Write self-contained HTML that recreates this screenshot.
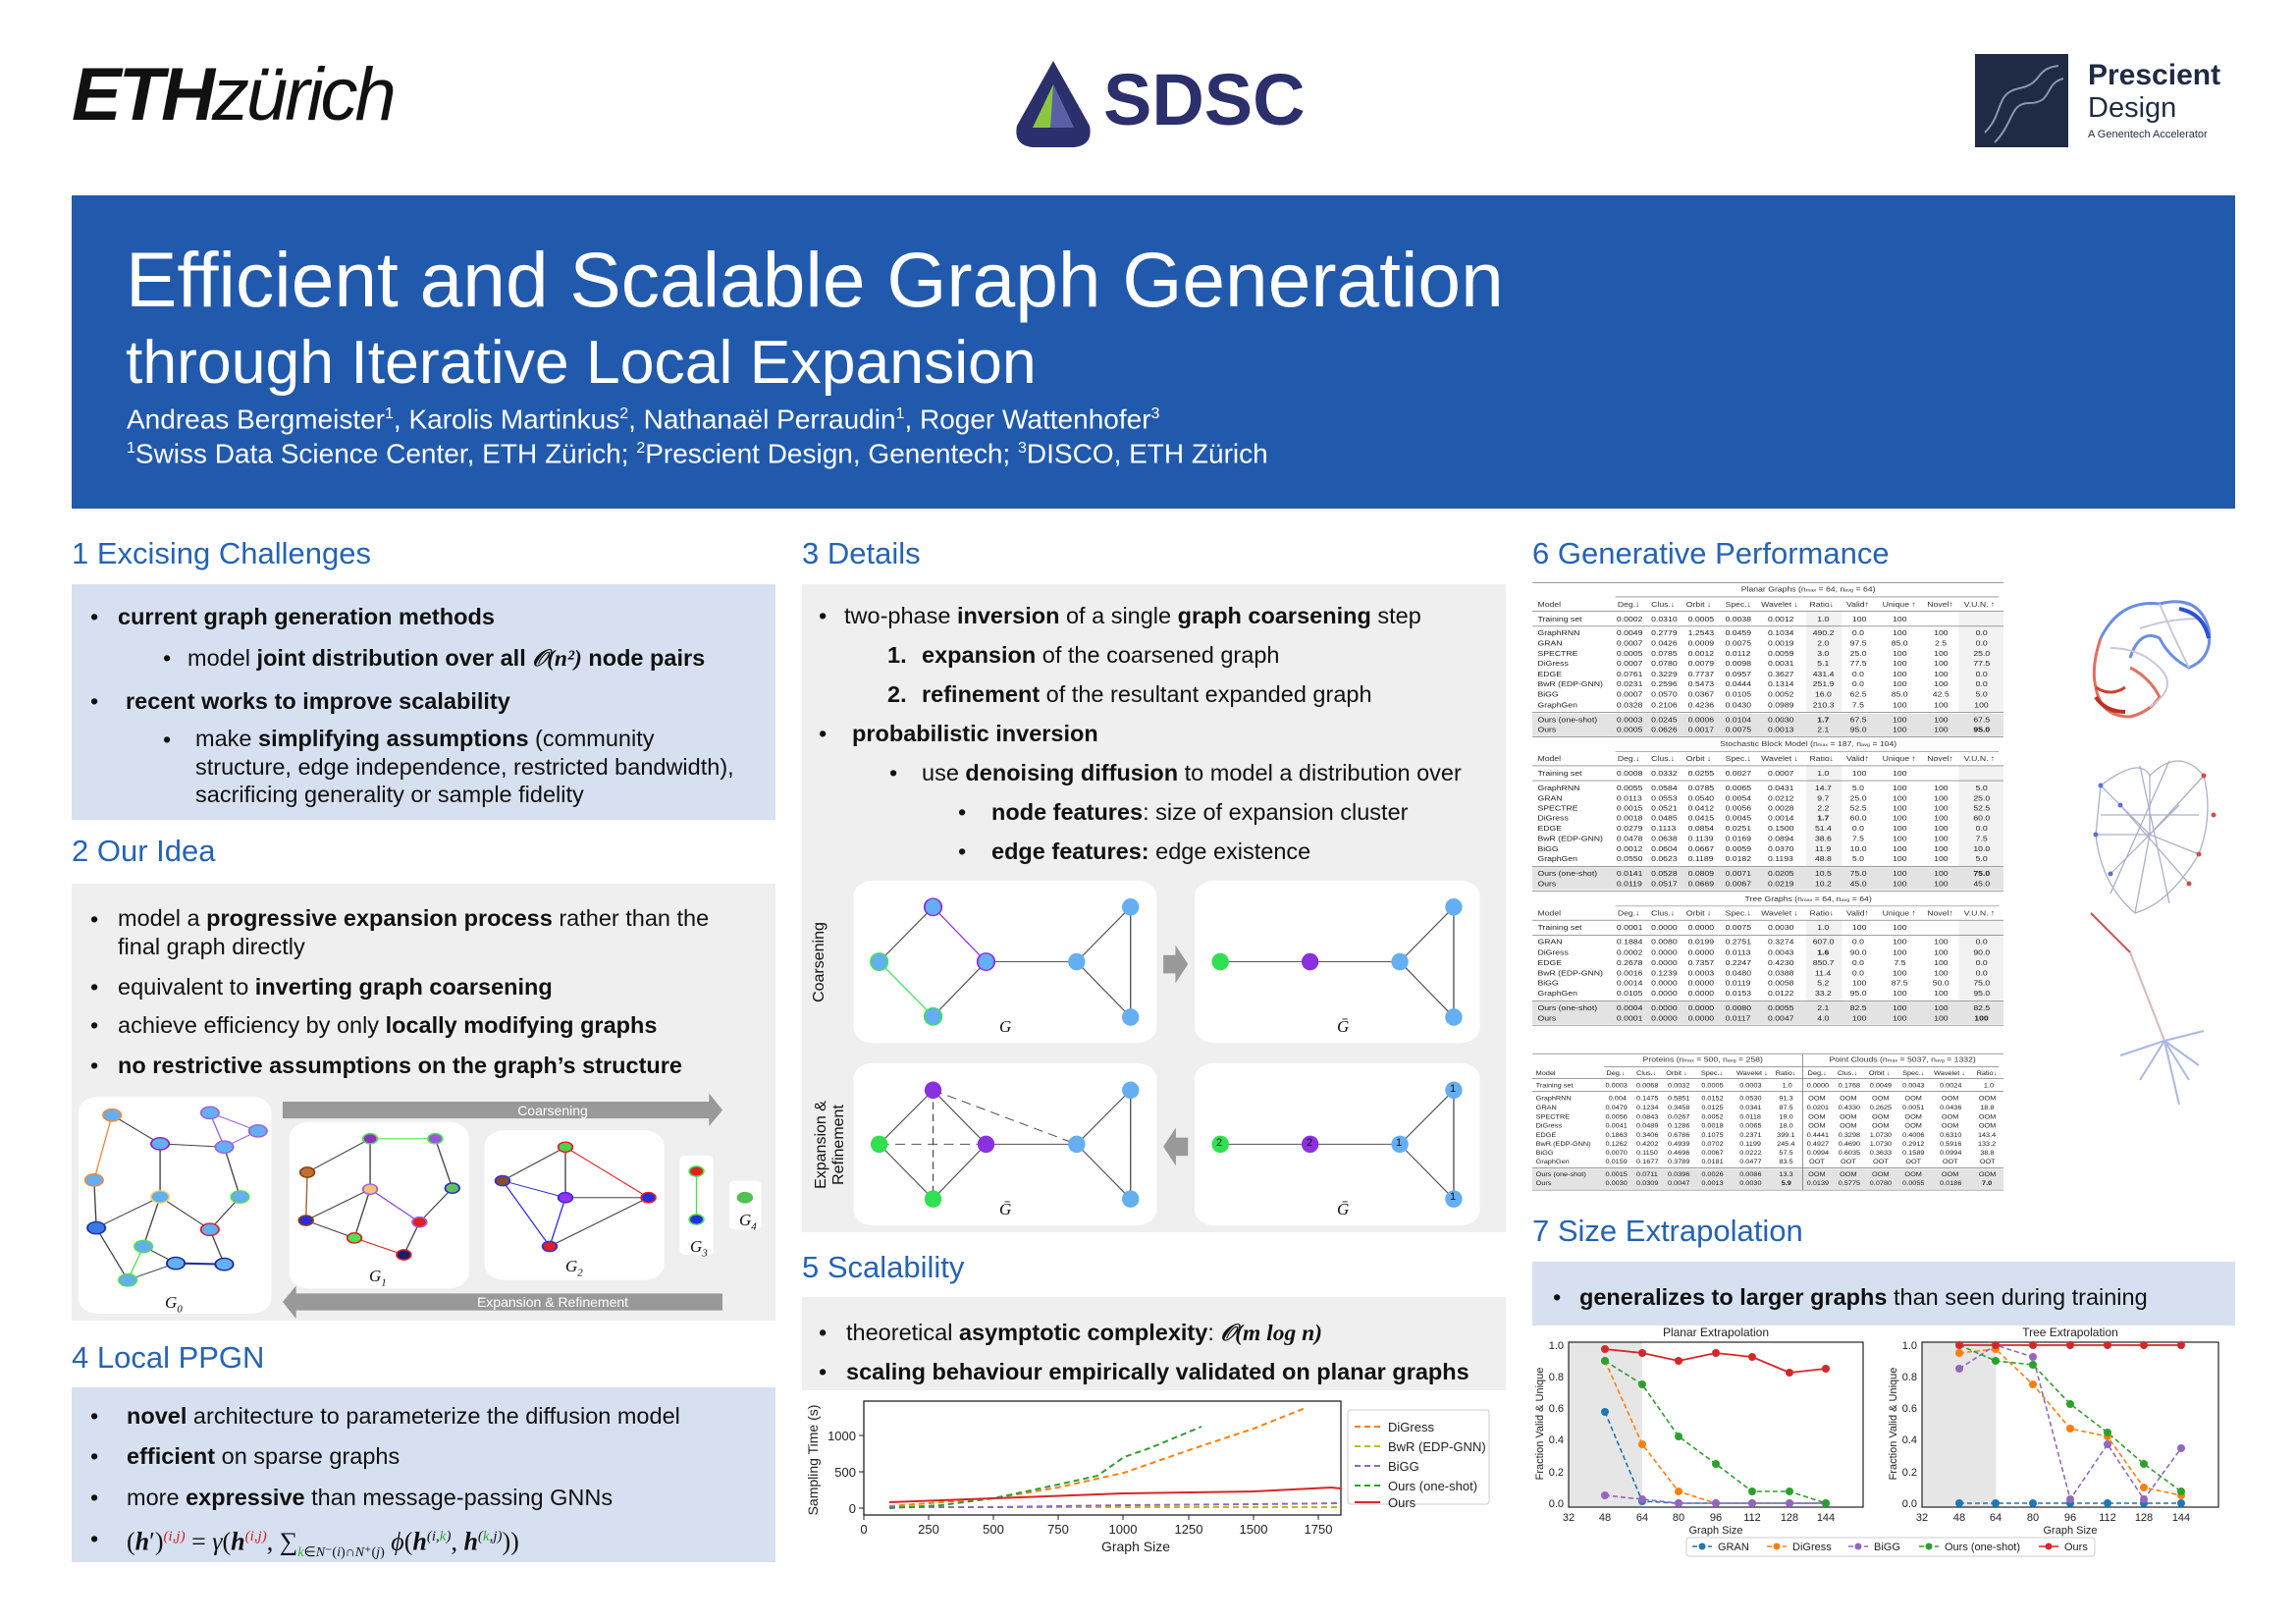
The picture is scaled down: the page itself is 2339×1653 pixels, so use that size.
<!DOCTYPE html>
<html><head><meta charset="utf-8">
<style>
*{margin:0;padding:0;box-sizing:border-box}
body{width:2339px;height:1653px;position:relative;background:#fff;font-family:"Liberation Sans",sans-serif;color:#111;overflow:hidden}
.a{position:absolute}
.l{position:absolute;font-size:23.5px;line-height:30px;white-space:nowrap;color:#111}
.h{position:absolute;font-size:31px;line-height:36px;color:#2563b5;white-space:nowrap}
.box{position:absolute}
.lb{background:#d6e0f0}
.gb{background:#efefef}
b{font-weight:bold}
.m{font-family:"Liberation Serif",serif;font-style:italic}
svg text{font-family:"Liberation Sans",sans-serif}
</style></head><body>

<!-- logos -->
<div class="a" style="left:73px;top:52px;font-size:76px;line-height:90px;white-space:nowrap;letter-spacing:-3px"><span style="font-weight:900;font-style:italic;display:inline-block">ETH</span><span style="font-style:italic;font-weight:300">zürich</span></div>
<svg class="a" style="left:1030px;top:58px" width="86" height="96" viewBox="0 0 86 96">
<path d="M43 4 L80 70 Q84 90 64 92 L22 92 Q2 90 6 70 Z" fill="#2b2f6b"/>
<path d="M43 28 L64 72 L22 72 Z" fill="#8cc63f"/>
<path d="M43 28 L64 72 L40 72 Z" fill="#5a5fa8"/>
</svg>
<div class="a" style="left:1124px;top:60px;font-size:74px;line-height:84px;font-weight:bold;color:#2b2f6b;letter-spacing:0px">SDSC</div>
<div class="a" style="left:2012px;top:55px;width:95px;height:95px;background:#1f2a44"></div>
<svg class="a" style="left:2012px;top:55px" width="95" height="95"><path d="M10 80 C30 60 20 40 45 35 C70 30 60 15 85 12" stroke="#8a97b0" stroke-width="2" fill="none"/><path d="M20 90 C40 70 35 50 55 50 C80 50 70 30 90 25" stroke="#8a97b0" stroke-width="2" fill="none"/></svg>
<div class="a" style="left:2127px;top:60px;font-size:30px;font-weight:bold;color:#1f2a44;line-height:34px">Prescient</div>
<div class="a" style="left:2127px;top:94px;font-size:29px;color:#1f2a44;line-height:32px">Design</div>
<div class="a" style="left:2127px;top:131px;font-size:11px;color:#1f2a44">A Genentech Accelerator</div>

<!-- banner -->
<div class="a" style="left:73px;top:199px;width:2204px;height:319px;background:#215aad"></div>
<div class="a" style="left:128px;top:240px;font-size:78.5px;line-height:90px;color:#fff;white-space:nowrap">Efficient and Scalable Graph Generation</div>
<div class="a" style="left:128px;top:332px;font-size:62.5px;line-height:74px;color:#fff;white-space:nowrap">through Iterative Local Expansion</div>
<div class="a" style="left:129px;top:406px;font-size:28px;line-height:32px;color:#fff;white-space:nowrap">Andreas Bergmeister<sup style="font-size:16px">1</sup>, Karolis Martinkus<sup style="font-size:16px">2</sup>, Nathanaël Perraudin<sup style="font-size:16px">1</sup>, Roger Wattenhofer<sup style="font-size:16px">3</sup></div>
<div class="a" style="left:129px;top:441px;font-size:28px;line-height:32px;color:#fff;white-space:nowrap"><sup style="font-size:16px">1</sup>Swiss Data Science Center, ETH Zürich; <sup style="font-size:16px">2</sup>Prescient Design, Genentech; <sup style="font-size:16px">3</sup>DISCO, ETH Zürich</div>

<!-- column 1 -->
<div class="h" style="left:73px;top:546px">1 Excising Challenges</div>
<div class="box lb" style="left:73px;top:595px;width:717px;height:240px"></div>
<div class="l" style="left:92px;top:613px">•</div><div class="l" style="left:120px;top:613px"><b>current graph generation methods</b></div>
<div class="l" style="left:166px;top:655px">•</div><div class="l" style="left:191px;top:655px">model <b>joint distribution over all <span class="m">𝒪(n²)</span> node pairs</b></div>
<div class="l" style="left:92px;top:699px">•</div><div class="l" style="left:128px;top:699px"><b>recent works to improve scalability</b></div>
<div class="l" style="left:166px;top:738px">•</div><div class="l" style="left:199px;top:738px;line-height:28.5px">make <b>simplifying assumptions</b> (community<br>structure, edge independence, restricted bandwidth),<br>sacrificing generality or sample fidelity</div>

<div class="h" style="left:73px;top:849px">2 Our Idea</div>
<div class="box gb" style="left:73px;top:900px;width:717px;height:445px"></div>
<div class="l" style="left:92px;top:921px">•</div><div class="l" style="left:120px;top:921px;line-height:29px">model a <b>progressive expansion process</b> rather than the<br>final graph directly</div>
<div class="l" style="left:92px;top:990px">•</div><div class="l" style="left:120px;top:990px">equivalent to <b>inverting graph coarsening</b></div>
<div class="l" style="left:92px;top:1029px">•</div><div class="l" style="left:120px;top:1029px">achieve efficiency by only <b>locally modifying graphs</b></div>
<div class="l" style="left:92px;top:1070px">•</div><div class="l" style="left:120px;top:1070px"><b>no restrictive assumptions on the graph’s structure</b></div>

<svg class="a" style="left:73px;top:1110px" width="717" height="240" viewBox="0 0 1568 700" preserveAspectRatio="none">
<rect x="15" y="20" width="430" height="645" rx="45" fill="#fff"/>
<rect x="485" y="95" width="400" height="495" rx="45" fill="#fff"/>
<rect x="920" y="120" width="400" height="445" rx="45" fill="#fff"/>
<rect x="1355" y="195" width="75" height="295" rx="12" fill="#fff"/>
<rect x="1465" y="270" width="72" height="145" rx="12" fill="#fff"/>
<path d="M470 35 H1420 V10 L1450 60 L1420 108 V85 H470 Z" fill="#999"/>
<path d="M1450 605 H500 V582 L470 630 L500 680 V655 H1450 Z" fill="#999"/>
<g stroke-width="3" fill="none">
<path d="M90 75 L50 268" stroke="#f08a40"/>
<path d="M90 75 L197 160 L340 170 M197 160 L197 318 M340 170 L375 318 L308 415 L340 518 M232 515 L125 565 M160 465 L232 515 M160 465 L197 318 L55 410 L125 565 M197 318 L308 415 M50 268 L55 410" stroke="#444"/>
<path d="M340 170 L308 68 L415 122 Z" stroke="#a060e0"/>
<path d="M340 518 L232 515" stroke="#2030a0" stroke-width="6"/>
<path d="M125 565 L160 465" stroke="#50e050"/>
<path d="M665 145 L810 145" stroke="#50e050"/>
<path d="M665 145 L525 245 M665 145 L665 295 M810 145 L848 292 L775 393 M522 388 L665 295 M522 388 L630 440 M665 295 L630 440 M775 393 L740 490" stroke="#444"/>
<path d="M525 245 L522 388" stroke="#a06030"/>
<path d="M665 295 L775 393" stroke="#8a30e0"/>
<path d="M630 440 L740 490" stroke="#e02020"/>
<path d="M1100 170 L960 270 M1100 170 L1100 320 M1100 320 L1285 320 M1285 320 L1065 465" stroke="#444"/>
<path d="M1100 170 L1285 320" stroke="#e02020"/>
<path d="M960 270 L1100 320 M960 270 L1065 465 M1100 320 L1065 465" stroke="#3030e0"/>
<path d="M1392 242 L1392 385" stroke="#50e050"/>
</g>
<g fill="#64aef2" stroke-width="4">
<ellipse cx="90" cy="75" rx="20" ry="18" stroke="#f08a40"/><ellipse cx="50" cy="268" rx="20" ry="18" stroke="#f08a40"/>
<ellipse cx="55" cy="410" rx="20" ry="18" fill="#3a7ae0" stroke="#2030c0"/><ellipse cx="125" cy="565" rx="20" ry="18" stroke="#50e050"/>
<ellipse cx="197" cy="160" rx="20" ry="18" stroke="#9020c0"/><ellipse cx="197" cy="318" rx="20" ry="18" stroke="#f0d060"/>
<ellipse cx="160" cy="465" rx="20" ry="18" stroke="#50e050"/><ellipse cx="232" cy="515" rx="20" ry="18" stroke="#1a2a90"/>
<ellipse cx="340" cy="518" rx="20" ry="18" stroke="#1a2a90"/><ellipse cx="308" cy="415" rx="20" ry="18" stroke="#e02020"/>
<ellipse cx="375" cy="318" rx="20" ry="18" stroke="#50e050"/><ellipse cx="340" cy="170" rx="20" ry="18" stroke="#a060e0"/>
<ellipse cx="308" cy="68" rx="20" ry="18" stroke="#a060e0"/><ellipse cx="415" cy="122" rx="20" ry="18" stroke="#a060e0"/>
<ellipse cx="665" cy="145" rx="16" ry="15" fill="#9030c0" stroke="#50e050"/><ellipse cx="810" cy="145" rx="16" ry="15" fill="#a050e0" stroke="#50e050"/>
<ellipse cx="525" cy="245" rx="16" ry="15" fill="#c07030" stroke="#8a4010"/><ellipse cx="665" cy="295" rx="16" ry="15" fill="#f5c07a" stroke="#a060e0"/>
<ellipse cx="848" cy="292" rx="16" ry="15" fill="#60c060" stroke="#2030c0"/><ellipse cx="522" cy="388" rx="16" ry="15" fill="#2a2adf" stroke="#8a4010"/>
<ellipse cx="630" cy="440" rx="16" ry="15" fill="#50e050" stroke="#e02020"/><ellipse cx="775" cy="393" rx="16" ry="15" fill="#e02020" stroke="#a060e0"/>
<ellipse cx="740" cy="490" rx="16" ry="15" fill="#1a1a70" stroke="#e02020"/>
<ellipse cx="1100" cy="170" rx="16" ry="15" fill="#50d050" stroke="#e02020"/><ellipse cx="960" cy="270" rx="16" ry="15" fill="#8a4a30" stroke="#3030e0"/>
<ellipse cx="1100" cy="320" rx="16" ry="15" fill="#9a30f0" stroke="#3030e0"/><ellipse cx="1285" cy="320" rx="16" ry="15" fill="#2030e0" stroke="#e02020"/>
<ellipse cx="1065" cy="465" rx="16" ry="15" fill="#e02020" stroke="#3030e0"/>
<ellipse cx="1392" cy="242" rx="16" ry="15" fill="#e02020" stroke="#50e050"/><ellipse cx="1392" cy="385" rx="16" ry="15" fill="#2030e0" stroke="#50e050"/>
<ellipse cx="1500" cy="320" rx="16" ry="15" fill="#50c050" stroke="#50c050"/>
</g>
</svg>
<div class="a" style="left:373px;top:1123px;width:380px;text-align:center;color:#fff;font-size:14px">Coarsening</div>
<div class="a" style="left:373px;top:1318px;width:380px;text-align:center;color:#fff;font-size:14px">Expansion &amp; Refinement</div>
<div class="a m" style="left:168px;top:1317px;font-size:17px">G<sub style="font-size:11px">0</sub></div>
<div class="a m" style="left:376px;top:1290px;font-size:17px">G<sub style="font-size:11px">1</sub></div>
<div class="a m" style="left:576px;top:1280px;font-size:17px">G<sub style="font-size:11px">2</sub></div>
<div class="a m" style="left:703px;top:1260px;font-size:17px">G<sub style="font-size:11px">3</sub></div>
<div class="a m" style="left:753px;top:1233px;font-size:17px">G<sub style="font-size:11px">4</sub></div>

<div class="h" style="left:73px;top:1365px">4 Local PPGN</div>
<div class="box lb" style="left:73px;top:1413px;width:717px;height:178px"></div>
<div class="l" style="left:92px;top:1427px">•</div><div class="l" style="left:129px;top:1427px"><b>novel</b> architecture to parameterize the diffusion model</div>
<div class="l" style="left:92px;top:1468px">•</div><div class="l" style="left:129px;top:1468px"><b>efficient</b> on sparse graphs</div>
<div class="l" style="left:92px;top:1510px">•</div><div class="l" style="left:129px;top:1510px">more <b>expressive</b> than message-passing GNNs</div>
<div class="l" style="left:92px;top:1552px">•</div><div class="l" style="left:129px;top:1550px;font-family:'Liberation Serif',serif;font-size:26px">(<b><i>h</i></b>′)<sup style="color:#d02020;font-size:15px"><i>(i,j)</i></sup> = <i>γ</i>(<b><i>h</i></b><sup style="color:#d02020;font-size:15px"><i>(i,j)</i></sup>, ∑<sub style="font-size:14px"><i style="color:#30b030">k</i>∈<i>N</i>⁻(<i>i</i>)∩<i>N</i>⁺(<i>j</i>)</sub> <i>ϕ</i>(<b><i>h</i></b><sup style="font-size:15px"><i>(i,<span style="color:#30b030">k</span>)</i></sup>, <b><i>h</i></b><sup style="font-size:15px"><i>(<span style="color:#30b030">k</span>,j)</i></sup>))</div>

<!-- column 2 -->
<div class="h" style="left:817px;top:546px">3 Details</div>
<div class="box gb" style="left:817px;top:595px;width:717px;height:660px"></div>
<div class="l" style="left:834px;top:612px">•</div><div class="l" style="left:860px;top:612px">two-phase <b>inversion</b> of a single <b>graph coarsening</b> step</div>
<div class="l" style="left:904px;top:652px"><b>1.</b></div><div class="l" style="left:939px;top:652px"><b>expansion</b> of the coarsened graph</div>
<div class="l" style="left:904px;top:692px"><b>2.</b></div><div class="l" style="left:939px;top:692px"><b>refinement</b> of the resultant expanded graph</div>
<div class="l" style="left:834px;top:732px">•</div><div class="l" style="left:868px;top:732px"><b>probabilistic inversion</b></div>
<div class="l" style="left:906px;top:772px">•</div><div class="l" style="left:939px;top:772px">use <b>denoising diffusion</b> to model a distribution over</div>
<div class="l" style="left:976px;top:812px">•</div><div class="l" style="left:1010px;top:812px"><b>node features</b>: size of expansion cluster</div>
<div class="l" style="left:976px;top:852px">•</div><div class="l" style="left:1010px;top:852px"><b>edge features:</b> edge existence</div>

<svg class="a" style="left:817px;top:890px" width="717" height="370" viewBox="0 0 1568 1095" preserveAspectRatio="none">
<rect x="115" y="20" width="675" height="490" rx="45" fill="#fff"/>
<rect x="875" y="20" width="635" height="490" rx="45" fill="#fff"/>
<rect x="115" y="570" width="675" height="490" rx="45" fill="#fff"/>
<rect x="875" y="570" width="635" height="490" rx="45" fill="#fff"/>
<path d="M805 245 H832 V215 L860 272 L832 330 V300 H805 Z" fill="#999"/>
<path d="M860 795 H833 V765 L805 822 L833 880 V850 H860 Z" fill="#999"/>
<g stroke="#555" stroke-width="3" fill="none">
<path d="M292 100 L172 265 M292 430 L410 265 L612 265 L732 100 L732 432 L612 265"/>
<path d="M292 100 L410 265" stroke="#8a30e0"/><path d="M172 265 L292 430" stroke="#40e060"/>
<path d="M932 265 L1332 265 L1452 100 L1452 432 L1332 265"/>
<path d="M292 652 L172 815 L292 980 L410 815 L292 652 M410 815 L612 815 L732 652 L732 980 L612 815"/>
<path d="M292 652 L292 980 M172 815 L410 815 M292 652 L612 815" stroke-dasharray="22 14"/>
<path d="M932 815 L1332 815 L1452 652 L1452 980 L1332 815"/>
</g>
<g>
<ellipse cx="292" cy="100" rx="19" ry="26" fill="#64aef2" stroke="#8a30e0" stroke-width="4"/>
<ellipse cx="172" cy="265" rx="19" ry="26" fill="#64aef2" stroke="#40e060" stroke-width="4"/>
<ellipse cx="292" cy="430" rx="19" ry="26" fill="#64aef2" stroke="#40e060" stroke-width="4"/>
<ellipse cx="410" cy="265" rx="19" ry="26" fill="#64aef2" stroke="#8a30e0" stroke-width="4"/>
<ellipse cx="612" cy="265" rx="19" ry="26" fill="#64aef2"/><ellipse cx="732" cy="100" rx="19" ry="26" fill="#64aef2"/><ellipse cx="732" cy="432" rx="19" ry="26" fill="#64aef2"/>
<ellipse cx="932" cy="265" rx="19" ry="26" fill="#30e050"/><ellipse cx="1132" cy="265" rx="19" ry="26" fill="#8a30e0"/>
<ellipse cx="1332" cy="265" rx="19" ry="26" fill="#64aef2"/><ellipse cx="1452" cy="100" rx="19" ry="26" fill="#64aef2"/><ellipse cx="1452" cy="432" rx="19" ry="26" fill="#64aef2"/>
<ellipse cx="292" cy="652" rx="19" ry="26" fill="#8a30e0"/><ellipse cx="172" cy="815" rx="19" ry="26" fill="#30e050"/>
<ellipse cx="292" cy="980" rx="19" ry="26" fill="#30e050"/><ellipse cx="410" cy="815" rx="19" ry="26" fill="#8a30e0"/>
<ellipse cx="612" cy="815" rx="19" ry="26" fill="#64aef2"/><ellipse cx="732" cy="652" rx="19" ry="26" fill="#64aef2"/><ellipse cx="732" cy="980" rx="19" ry="26" fill="#64aef2"/>
<ellipse cx="932" cy="815" rx="19" ry="26" fill="#30e050"/><ellipse cx="1132" cy="815" rx="19" ry="26" fill="#8a30e0"/>
<ellipse cx="1332" cy="815" rx="19" ry="26" fill="#64aef2"/><ellipse cx="1452" cy="652" rx="19" ry="26" fill="#64aef2"/><ellipse cx="1452" cy="980" rx="19" ry="26" fill="#64aef2"/>
</g>
</svg>
<div class="a" style="left:1239px;top:1158px;font-size:11px">2</div><div class="a" style="left:1331px;top:1158px;font-size:11px">2</div>
<div class="a" style="left:1422px;top:1158px;font-size:11px">1</div><div class="a" style="left:1477px;top:1103px;font-size:11px">1</div><div class="a" style="left:1477px;top:1213px;font-size:11px">1</div>
<div class="a m" style="left:1018px;top:1036px;font-size:17px">G</div>
<div class="a m" style="left:1362px;top:1036px;font-size:17px">Ḡ</div>
<div class="a m" style="left:1018px;top:1222px;font-size:17px">Ḡ</div>
<div class="a m" style="left:1362px;top:1222px;font-size:17px">Ḡ</div>
<div class="a" style="left:835px;top:980px;font-size:16px;transform:translate(-50%,-50%) rotate(-90deg);transform-origin:center;white-space:nowrap;line-height:18px">Coarsening</div>
<div class="a" style="left:846px;top:1166px;font-size:16px;transform:translate(-50%,-50%) rotate(-90deg);transform-origin:center;white-space:nowrap;line-height:18px;text-align:center">Expansion &amp;<br>Refinement</div>

<div class="h" style="left:817px;top:1273px">5 Scalability</div>
<div class="box gb" style="left:817px;top:1321px;width:717px;height:95px"></div>
<div class="l" style="left:834px;top:1342px">•</div><div class="l" style="left:862px;top:1342px">theoretical <b>asymptotic complexity</b>: <span class="m" style="font-weight:bold">𝒪(m log n)</span></div>
<div class="l" style="left:834px;top:1382px">•</div><div class="l" style="left:862px;top:1382px"><b>scaling behaviour empirically validated on planar graphs</b></div>

<svg class="a" style="left:817px;top:1416px" width="717" height="190" viewBox="817 1416 717 190">
<rect x="880" y="1427" width="486" height="116" fill="none" stroke="#222" stroke-width="1.3"/>
<g stroke="#222" stroke-width="1"><path d="M880 1543v5M946 1543v5M1012 1543v5M1078 1543v5M1144 1543v5M1211 1543v5M1277 1543v5M1343 1543v5M880 1536h-5M880 1499h-5M880 1462h-5"/></g>
<g font-size="13" fill="#222" text-anchor="middle">
<text x="880" y="1562">0</text><text x="946" y="1562">250</text><text x="1012" y="1562">500</text><text x="1078" y="1562">750</text><text x="1144" y="1562">1000</text><text x="1211" y="1562">1250</text><text x="1277" y="1562">1500</text><text x="1343" y="1562">1750</text>
<text x="1157" y="1580" font-size="14">Graph Size</text>
</g>
<g font-size="13" fill="#222" text-anchor="end"><text x="872" y="1541">0</text><text x="872" y="1504">500</text><text x="872" y="1467">1000</text></g>
<text transform="translate(833 1487) rotate(-90)" font-size="14" fill="#222" text-anchor="middle">Sampling Time (s)</text>
<g fill="none" stroke-width="2">
<polyline points="906,1534 959,1530 1012,1526 1078,1515 1118,1506 1145,1500 1211,1477 1277,1455 1330,1434" stroke="#ff7f0e" stroke-dasharray="6 4"/>
<polyline points="906,1535 1366,1535" stroke="#bcbd22" stroke-dasharray="6 4"/>
<polyline points="906,1535 1012,1535 1145,1533 1277,1532 1366,1531" stroke="#9467bd" stroke-dasharray="6 4"/>
<polyline points="906,1536 959,1533 1012,1526 1078,1512 1118,1503 1145,1484 1171,1475 1224,1453" stroke="#2ca02c" stroke-dasharray="6 4"/>
<polyline points="906,1530 1012,1526 1092,1523 1145,1521 1277,1519 1356,1515 1366,1516" stroke="#d62728"/>
</g>
<rect x="1373" y="1436" width="144" height="96" fill="#fff" stroke="#ccc" rx="3"/>
<g stroke-width="2"><path d="M1380 1453h26" stroke="#ff7f0e" stroke-dasharray="6 4"/><path d="M1380 1473h26" stroke="#bcbd22" stroke-dasharray="6 4"/><path d="M1380 1493h26" stroke="#9467bd" stroke-dasharray="6 4"/><path d="M1380 1513h26" stroke="#2ca02c" stroke-dasharray="6 4"/><path d="M1380 1530h26" stroke="#d62728"/></g>
<g font-size="13" fill="#222"><text x="1414" y="1458">DiGress</text><text x="1414" y="1478">BwR (EDP-GNN)</text><text x="1414" y="1498">BiGG</text><text x="1414" y="1518">Ours (one-shot)</text><text x="1414" y="1535">Ours</text></g>
</svg>

<!-- column 3 -->
<div class="h" style="left:1561px;top:546px">6 Generative Performance</div>
<svg class="a" style="left:1561px;top:590px" width="480" height="629" viewBox="0 0 1050 1540" preserveAspectRatio="none" font-family="Liberation Serif">
<g fill="#f2f2f2"><rect x="610" y="80" width="80" height="250"/><rect x="950" y="80" width="100" height="250"/><rect x="610" y="465" width="80" height="250"/><rect x="950" y="465" width="100" height="250"/><rect x="610" y="850" width="80" height="200"/><rect x="950" y="850" width="100" height="200"/></g>
<g fill="#e3e3e3"><rect x="0" y="335" width="1050" height="56"/><rect x="0" y="718" width="1050" height="56"/><rect x="0" y="1053" width="1050" height="56"/><rect x="0" y="1470" width="1050" height="50"/></g>
<g stroke="#666" stroke-width="1.5"><path d="M0 8H1050M185 44H1040M0 80H1050M0 117H1050M0 332H1050M0 393H1050"/><path d="M185 430H1040M0 465H1050M0 502H1050M0 716H1050M0 777H1050"/><path d="M185 815H1040M0 850H1050M0 887H1050M0 1051H1050M0 1112H1050"/><path d="M0 1183H1050M160 1215H1040M0 1245H1050M0 1277H1050M0 1468H1050M0 1523H1050M603 1185V1523"/></g>
<g font-size="19" fill="#333">
<text x="615" y="31" text-anchor="middle">Planar Graphs (n<tspan font-size="12">max</tspan> = 64, n<tspan font-size="12">avg</tspan> = 64)</text>
<text x="615" y="416" text-anchor="middle">Stochastic Block Model (n<tspan font-size="12">max</tspan> = 187, n<tspan font-size="12">avg</tspan> = 104)</text>
<text x="615" y="803" text-anchor="middle">Tree Graphs (n<tspan font-size="12">max</tspan> = 64, n<tspan font-size="12">avg</tspan> = 64)</text>
<text x="380" y="1204" text-anchor="middle">Proteins (n<tspan font-size="12">max</tspan> = 500, n<tspan font-size="12">avg</tspan> = 258)</text>
<text x="825" y="1204" text-anchor="middle">Point Clouds (n<tspan font-size="12">max</tspan> = 5037, n<tspan font-size="12">avg</tspan> = 1332)</text>
</g>
<g font-size="19" fill="#333">
<text y="68"><tspan x="12">Model</tspan><tspan x="190">Deg.↓</tspan><tspan x="265">Clus.↓</tspan><tspan x="343">Orbit ↓</tspan><tspan x="430">Spec.↓</tspan><tspan x="510">Wavelet ↓</tspan><tspan x="618">Ratio↓</tspan><tspan x="700">Valid↑</tspan><tspan x="780">Unique ↑</tspan><tspan x="880">Novel↑</tspan><tspan x="962">V.U.N. ↑</tspan></text>
<text y="453"><tspan x="12">Model</tspan><tspan x="190">Deg.↓</tspan><tspan x="265">Clus.↓</tspan><tspan x="343">Orbit ↓</tspan><tspan x="430">Spec.↓</tspan><tspan x="510">Wavelet ↓</tspan><tspan x="618">Ratio↓</tspan><tspan x="700">Valid↑</tspan><tspan x="780">Unique ↑</tspan><tspan x="880">Novel↑</tspan><tspan x="962">V.U.N. ↑</tspan></text>
<text y="838"><tspan x="12">Model</tspan><tspan x="190">Deg.↓</tspan><tspan x="265">Clus.↓</tspan><tspan x="343">Orbit ↓</tspan><tspan x="430">Spec.↓</tspan><tspan x="510">Wavelet ↓</tspan><tspan x="618">Ratio↓</tspan><tspan x="700">Valid↑</tspan><tspan x="780">Unique ↑</tspan><tspan x="880">Novel↑</tspan><tspan x="962">V.U.N. ↑</tspan></text>
</g>
<g font-size="19" fill="#222">
<text y="105"><tspan x="12">Training set</tspan><tspan x="188">0.0002</tspan><tspan x="265">0.0310</tspan><tspan x="347">0.0005</tspan><tspan x="430">0.0038</tspan><tspan x="525">0.0012</tspan><tspan x="635">1.0</tspan><tspan x="713">100</tspan><tspan x="803">100</tspan></text>
<text y="140"><tspan x="12">GraphRNN</tspan><tspan x="188">0.0049</tspan><tspan x="265">0.2779</tspan><tspan x="347">1.2543</tspan><tspan x="430">0.0459</tspan><tspan x="525">0.1034</tspan><tspan x="625">490.2</tspan><tspan x="713">0.0</tspan><tspan x="803">100</tspan><tspan x="895">100</tspan><tspan x="988">0.0</tspan></text>
<text y="165"><tspan x="12">GRAN</tspan><tspan x="188">0.0007</tspan><tspan x="265">0.0426</tspan><tspan x="347">0.0009</tspan><tspan x="430">0.0075</tspan><tspan x="525">0.0019</tspan><tspan x="635">2.0</tspan><tspan x="708">97.5</tspan><tspan x="800">85.0</tspan><tspan x="897">2.5</tspan><tspan x="988">0.0</tspan></text>
<text y="191"><tspan x="12">SPECTRE</tspan><tspan x="188">0.0005</tspan><tspan x="265">0.0785</tspan><tspan x="347">0.0012</tspan><tspan x="430">0.0112</tspan><tspan x="525">0.0059</tspan><tspan x="635">3.0</tspan><tspan x="708">25.0</tspan><tspan x="803">100</tspan><tspan x="895">100</tspan><tspan x="983">25.0</tspan></text>
<text y="216"><tspan x="12">DiGress</tspan><tspan x="188">0.0007</tspan><tspan x="265">0.0780</tspan><tspan x="347">0.0079</tspan><tspan x="430">0.0098</tspan><tspan x="525">0.0031</tspan><tspan x="635">5.1</tspan><tspan x="708">77.5</tspan><tspan x="803">100</tspan><tspan x="895">100</tspan><tspan x="983">77.5</tspan></text>
<text y="242"><tspan x="12">EDGE</tspan><tspan x="188">0.0761</tspan><tspan x="265">0.3229</tspan><tspan x="347">0.7737</tspan><tspan x="430">0.0957</tspan><tspan x="525">0.3627</tspan><tspan x="625">431.4</tspan><tspan x="713">0.0</tspan><tspan x="803">100</tspan><tspan x="895">100</tspan><tspan x="988">0.0</tspan></text>
<text y="267"><tspan x="12">BwR (EDP-GNN)</tspan><tspan x="188">0.0231</tspan><tspan x="265">0.2596</tspan><tspan x="347">0.5473</tspan><tspan x="430">0.0444</tspan><tspan x="525">0.1314</tspan><tspan x="625">251.9</tspan><tspan x="713">0.0</tspan><tspan x="803">100</tspan><tspan x="895">100</tspan><tspan x="988">0.0</tspan></text>
<text y="293"><tspan x="12">BiGG</tspan><tspan x="188">0.0007</tspan><tspan x="265">0.0570</tspan><tspan x="347">0.0367</tspan><tspan x="430">0.0105</tspan><tspan x="525">0.0052</tspan><tspan x="630">16.0</tspan><tspan x="708">62.5</tspan><tspan x="800">85.0</tspan><tspan x="892">42.5</tspan><tspan x="988">5.0</tspan></text>
<text y="319"><tspan x="12">GraphGen</tspan><tspan x="188">0.0328</tspan><tspan x="265">0.2106</tspan><tspan x="347">0.4236</tspan><tspan x="430">0.0430</tspan><tspan x="525">0.0989</tspan><tspan x="625">210.3</tspan><tspan x="713">7.5</tspan><tspan x="803">100</tspan><tspan x="895">100</tspan><tspan x="985">100</tspan></text>
<text y="356"><tspan x="12">Ours (one-shot)</tspan><tspan x="188">0.0003</tspan><tspan x="265">0.0245</tspan><tspan x="347">0.0006</tspan><tspan x="430">0.0104</tspan><tspan x="525">0.0030</tspan><tspan x="635" font-weight="bold">1.7</tspan><tspan x="708">67.5</tspan><tspan x="803">100</tspan><tspan x="895">100</tspan><tspan x="983">67.5</tspan></text>
<text y="381"><tspan x="12">Ours</tspan><tspan x="188">0.0005</tspan><tspan x="265">0.0626</tspan><tspan x="347">0.0017</tspan><tspan x="430">0.0075</tspan><tspan x="525">0.0013</tspan><tspan x="635">2.1</tspan><tspan x="708">95.0</tspan><tspan x="803">100</tspan><tspan x="895">100</tspan><tspan x="983" font-weight="bold">95.0</tspan></text>

<text y="490"><tspan x="12">Training set</tspan><tspan x="188">0.0008</tspan><tspan x="265">0.0332</tspan><tspan x="347">0.0255</tspan><tspan x="430">0.0027</tspan><tspan x="525">0.0007</tspan><tspan x="635">1.0</tspan><tspan x="713">100</tspan><tspan x="803">100</tspan></text>
<text y="526"><tspan x="12">GraphRNN</tspan><tspan x="188">0.0055</tspan><tspan x="265">0.0584</tspan><tspan x="347">0.0785</tspan><tspan x="430">0.0065</tspan><tspan x="525">0.0431</tspan><tspan x="630">14.7</tspan><tspan x="713">5.0</tspan><tspan x="803">100</tspan><tspan x="895">100</tspan><tspan x="988">5.0</tspan></text>
<text y="552"><tspan x="12">GRAN</tspan><tspan x="188">0.0113</tspan><tspan x="265">0.0553</tspan><tspan x="347">0.0540</tspan><tspan x="430">0.0054</tspan><tspan x="525">0.0212</tspan><tspan x="635">9.7</tspan><tspan x="708">25.0</tspan><tspan x="803">100</tspan><tspan x="895">100</tspan><tspan x="983">25.0</tspan></text>
<text y="576"><tspan x="12">SPECTRE</tspan><tspan x="188">0.0015</tspan><tspan x="265">0.0521</tspan><tspan x="347">0.0412</tspan><tspan x="430">0.0056</tspan><tspan x="525">0.0028</tspan><tspan x="635">2.2</tspan><tspan x="708">52.5</tspan><tspan x="803">100</tspan><tspan x="895">100</tspan><tspan x="983">52.5</tspan></text>
<text y="601"><tspan x="12">DiGress</tspan><tspan x="188">0.0018</tspan><tspan x="265">0.0485</tspan><tspan x="347">0.0415</tspan><tspan x="430">0.0045</tspan><tspan x="525">0.0014</tspan><tspan x="635" font-weight="bold">1.7</tspan><tspan x="708">60.0</tspan><tspan x="803">100</tspan><tspan x="895">100</tspan><tspan x="983">60.0</tspan></text>
<text y="627"><tspan x="12">EDGE</tspan><tspan x="188">0.0279</tspan><tspan x="265">0.1113</tspan><tspan x="347">0.0854</tspan><tspan x="430">0.0251</tspan><tspan x="525">0.1500</tspan><tspan x="630">51.4</tspan><tspan x="713">0.0</tspan><tspan x="803">100</tspan><tspan x="895">100</tspan><tspan x="988">0.0</tspan></text>
<text y="653"><tspan x="12">BwR (EDP-GNN)</tspan><tspan x="188">0.0478</tspan><tspan x="265">0.0638</tspan><tspan x="347">0.1139</tspan><tspan x="430">0.0169</tspan><tspan x="525">0.0894</tspan><tspan x="630">38.6</tspan><tspan x="713">7.5</tspan><tspan x="803">100</tspan><tspan x="895">100</tspan><tspan x="988">7.5</tspan></text>
<text y="678"><tspan x="12">BiGG</tspan><tspan x="188">0.0012</tspan><tspan x="265">0.0604</tspan><tspan x="347">0.0667</tspan><tspan x="430">0.0059</tspan><tspan x="525">0.0370</tspan><tspan x="630">11.9</tspan><tspan x="708">10.0</tspan><tspan x="803">100</tspan><tspan x="895">100</tspan><tspan x="983">10.0</tspan></text>
<text y="703"><tspan x="12">GraphGen</tspan><tspan x="188">0.0550</tspan><tspan x="265">0.0623</tspan><tspan x="347">0.1189</tspan><tspan x="430">0.0182</tspan><tspan x="525">0.1193</tspan><tspan x="630">48.8</tspan><tspan x="713">5.0</tspan><tspan x="803">100</tspan><tspan x="895">100</tspan><tspan x="988">5.0</tspan></text>
<text y="739"><tspan x="12">Ours (one-shot)</tspan><tspan x="188">0.0141</tspan><tspan x="265">0.0528</tspan><tspan x="347">0.0809</tspan><tspan x="430">0.0071</tspan><tspan x="525">0.0205</tspan><tspan x="630">10.5</tspan><tspan x="708">75.0</tspan><tspan x="803">100</tspan><tspan x="895">100</tspan><tspan x="983" font-weight="bold">75.0</tspan></text>
<text y="765"><tspan x="12">Ours</tspan><tspan x="188">0.0119</tspan><tspan x="265">0.0517</tspan><tspan x="347">0.0669</tspan><tspan x="430">0.0067</tspan><tspan x="525">0.0219</tspan><tspan x="630">10.2</tspan><tspan x="708">45.0</tspan><tspan x="803">100</tspan><tspan x="895">100</tspan><tspan x="983">45.0</tspan></text>

<text y="874"><tspan x="12">Training set</tspan><tspan x="188">0.0001</tspan><tspan x="265">0.0000</tspan><tspan x="347">0.0000</tspan><tspan x="430">0.0075</tspan><tspan x="525">0.0030</tspan><tspan x="635">1.0</tspan><tspan x="713">100</tspan><tspan x="803">100</tspan></text>
<text y="910"><tspan x="12">GRAN</tspan><tspan x="188">0.1884</tspan><tspan x="265">0.0080</tspan><tspan x="347">0.0199</tspan><tspan x="430">0.2751</tspan><tspan x="525">0.3274</tspan><tspan x="625">607.0</tspan><tspan x="713">0.0</tspan><tspan x="803">100</tspan><tspan x="895">100</tspan><tspan x="988">0.0</tspan></text>
<text y="936"><tspan x="12">DiGress</tspan><tspan x="188">0.0002</tspan><tspan x="265">0.0000</tspan><tspan x="347">0.0000</tspan><tspan x="430">0.0113</tspan><tspan x="525">0.0043</tspan><tspan x="635" font-weight="bold">1.6</tspan><tspan x="708">90.0</tspan><tspan x="803">100</tspan><tspan x="895">100</tspan><tspan x="983">90.0</tspan></text>
<text y="962"><tspan x="12">EDGE</tspan><tspan x="188">0.2678</tspan><tspan x="265">0.0000</tspan><tspan x="347">0.7357</tspan><tspan x="430">0.2247</tspan><tspan x="525">0.4230</tspan><tspan x="625">850.7</tspan><tspan x="713">0.0</tspan><tspan x="806">7.5</tspan><tspan x="895">100</tspan><tspan x="988">0.0</tspan></text>
<text y="988"><tspan x="12">BwR (EDP-GNN)</tspan><tspan x="188">0.0016</tspan><tspan x="265">0.1239</tspan><tspan x="347">0.0003</tspan><tspan x="430">0.0480</tspan><tspan x="525">0.0388</tspan><tspan x="630">11.4</tspan><tspan x="713">0.0</tspan><tspan x="803">100</tspan><tspan x="895">100</tspan><tspan x="988">0.0</tspan></text>
<text y="1013"><tspan x="12">BiGG</tspan><tspan x="188">0.0014</tspan><tspan x="265">0.0000</tspan><tspan x="347">0.0000</tspan><tspan x="430">0.0119</tspan><tspan x="525">0.0058</tspan><tspan x="635">5.2</tspan><tspan x="713">100</tspan><tspan x="800">87.5</tspan><tspan x="892">50.0</tspan><tspan x="983">75.0</tspan></text>
<text y="1038"><tspan x="12">GraphGen</tspan><tspan x="188">0.0105</tspan><tspan x="265">0.0000</tspan><tspan x="347">0.0000</tspan><tspan x="430">0.0153</tspan><tspan x="525">0.0122</tspan><tspan x="630">33.2</tspan><tspan x="708">95.0</tspan><tspan x="803">100</tspan><tspan x="895">100</tspan><tspan x="983">95.0</tspan></text>
<text y="1075"><tspan x="12">Ours (one-shot)</tspan><tspan x="188">0.0004</tspan><tspan x="265">0.0000</tspan><tspan x="347">0.0000</tspan><tspan x="430">0.0080</tspan><tspan x="525">0.0055</tspan><tspan x="635">2.1</tspan><tspan x="708">82.5</tspan><tspan x="803">100</tspan><tspan x="895">100</tspan><tspan x="983">82.5</tspan></text>
<text y="1100"><tspan x="12">Ours</tspan><tspan x="188">0.0001</tspan><tspan x="265">0.0000</tspan><tspan x="347">0.0000</tspan><tspan x="430">0.0117</tspan><tspan x="525">0.0047</tspan><tspan x="635">4.0</tspan><tspan x="713">100</tspan><tspan x="803">100</tspan><tspan x="895">100</tspan><tspan x="985" font-weight="bold">100</tspan></text>
</g>
<g font-size="16" fill="#222">
<text y="1236"><tspan x="8">Model</tspan><tspan x="165">Deg.↓</tspan><tspan x="232">Clus.↓</tspan><tspan x="298">Orbit ↓</tspan><tspan x="376">Spec.↓</tspan><tspan x="455">Wavelet ↓</tspan><tspan x="542">Ratio↓</tspan><tspan x="614">Deg.↓</tspan><tspan x="680">Clus.↓</tspan><tspan x="750">Orbit ↓</tspan><tspan x="825">Spec.↓</tspan><tspan x="895">Wavelet ↓</tspan><tspan x="990">Ratio↓</tspan></text>
<text y="1267"><tspan x="8">Training set</tspan><tspan x="163">0.0003</tspan><tspan x="232">0.0068</tspan><tspan x="302">0.0032</tspan><tspan x="377">0.0005</tspan><tspan x="462">0.0003</tspan><tspan x="557">1.0</tspan><tspan x="612">0.0000</tspan><tspan x="682">0.1768</tspan><tspan x="752">0.0049</tspan><tspan x="825">0.0043</tspan><tspan x="908">0.0024</tspan><tspan x="1006">1.0</tspan></text>
<text y="1299"><tspan x="8">GraphRNN</tspan><tspan x="170">0.004</tspan><tspan x="232">0.1475</tspan><tspan x="302">0.5851</tspan><tspan x="377">0.0152</tspan><tspan x="462">0.0530</tspan><tspan x="550">91.3</tspan><tspan x="615">OOM</tspan><tspan x="685">OOM</tspan><tspan x="757">OOM</tspan><tspan x="830">OOM</tspan><tspan x="912">OOM</tspan><tspan x="995">OOM</tspan></text>
<text y="1322"><tspan x="8">GRAN</tspan><tspan x="163">0.0479</tspan><tspan x="232">0.1234</tspan><tspan x="302">0.3458</tspan><tspan x="377">0.0125</tspan><tspan x="462">0.0341</tspan><tspan x="550">87.5</tspan><tspan x="612">0.0201</tspan><tspan x="682">0.4330</tspan><tspan x="752">0.2625</tspan><tspan x="825">0.0051</tspan><tspan x="908">0.0436</tspan><tspan x="998">18.8</tspan></text>
<text y="1345"><tspan x="8">SPECTRE</tspan><tspan x="163">0.0056</tspan><tspan x="232">0.0843</tspan><tspan x="302">0.0267</tspan><tspan x="377">0.0052</tspan><tspan x="462">0.0118</tspan><tspan x="550">19.0</tspan><tspan x="615">OOM</tspan><tspan x="685">OOM</tspan><tspan x="757">OOM</tspan><tspan x="830">OOM</tspan><tspan x="912">OOM</tspan><tspan x="995">OOM</tspan></text>
<text y="1368"><tspan x="8">DiGress</tspan><tspan x="163">0.0041</tspan><tspan x="232">0.0489</tspan><tspan x="302">0.1286</tspan><tspan x="377">0.0018</tspan><tspan x="462">0.0065</tspan><tspan x="550">18.0</tspan><tspan x="615">OOM</tspan><tspan x="685">OOM</tspan><tspan x="757">OOM</tspan><tspan x="830">OOM</tspan><tspan x="912">OOM</tspan><tspan x="995">OOM</tspan></text>
<text y="1391"><tspan x="8">EDGE</tspan><tspan x="163">0.1863</tspan><tspan x="232">0.3406</tspan><tspan x="302">0.6786</tspan><tspan x="377">0.1075</tspan><tspan x="462">0.2371</tspan><tspan x="545">399.1</tspan><tspan x="612">0.4441</tspan><tspan x="682">0.3298</tspan><tspan x="752">1.0730</tspan><tspan x="825">0.4006</tspan><tspan x="908">0.6310</tspan><tspan x="993">143.4</tspan></text>
<text y="1413"><tspan x="8">BwR (EDP-GNN)</tspan><tspan x="163">0.1262</tspan><tspan x="232">0.4202</tspan><tspan x="302">0.4939</tspan><tspan x="377">0.0702</tspan><tspan x="462">0.1199</tspan><tspan x="545">245.4</tspan><tspan x="612">0.4927</tspan><tspan x="682">0.4690</tspan><tspan x="752">1.0730</tspan><tspan x="825">0.2912</tspan><tspan x="908">0.5916</tspan><tspan x="993">133.2</tspan></text>
<text y="1435"><tspan x="8">BiGG</tspan><tspan x="163">0.0070</tspan><tspan x="232">0.1150</tspan><tspan x="302">0.4696</tspan><tspan x="377">0.0067</tspan><tspan x="462">0.0222</tspan><tspan x="550">57.5</tspan><tspan x="612">0.0994</tspan><tspan x="682">0.6035</tspan><tspan x="752">0.3633</tspan><tspan x="825">0.1589</tspan><tspan x="908">0.0994</tspan><tspan x="998">38.8</tspan></text>
<text y="1457"><tspan x="8">GraphGen</tspan><tspan x="163">0.0159</tspan><tspan x="232">0.1677</tspan><tspan x="302">0.3789</tspan><tspan x="377">0.0181</tspan><tspan x="462">0.0477</tspan><tspan x="550">83.5</tspan><tspan x="617">OOT</tspan><tspan x="687">OOT</tspan><tspan x="759">OOT</tspan><tspan x="832">OOT</tspan><tspan x="914">OOT</tspan><tspan x="997">OOT</tspan></text>
<text y="1489"><tspan x="8">Ours (one-shot)</tspan><tspan x="163">0.0015</tspan><tspan x="232">0.0711</tspan><tspan x="302">0.0396</tspan><tspan x="377">0.0026</tspan><tspan x="462">0.0086</tspan><tspan x="550">13.3</tspan><tspan x="615">OOM</tspan><tspan x="685">OOM</tspan><tspan x="757">OOM</tspan><tspan x="830">OOM</tspan><tspan x="912">OOM</tspan><tspan x="995">OOM</tspan></text>
<text y="1511"><tspan x="8">Ours</tspan><tspan x="163">0.0030</tspan><tspan x="232">0.0309</tspan><tspan x="302">0.0047</tspan><tspan x="377">0.0013</tspan><tspan x="462">0.0030</tspan><tspan x="555" font-weight="bold">5.9</tspan><tspan x="612">0.0139</tspan><tspan x="682">0.5775</tspan><tspan x="752">0.0780</tspan><tspan x="825">0.0055</tspan><tspan x="908">0.0186</tspan><tspan x="1002" font-weight="bold">7.0</tspan></text>
</g>
</svg>

<!-- graph sample images -->
<svg class="a" style="left:2120px;top:590px" width="140" height="640" viewBox="0 0 140 640">
<g fill="none" stroke-width="3">
<path d="M20 60 Q40 20 80 25 Q120 15 130 50 Q135 80 110 90 Q90 80 80 60 Q60 50 50 80" stroke="#6a8fe0"/>
<path d="M20 60 Q10 90 15 110 Q20 140 50 140 Q70 135 80 120 Q70 100 50 90" stroke="#e07060"/>
<path d="M15 110 Q30 120 45 110" stroke="#d04030"/>
<path d="M80 25 Q95 60 110 90 M60 50 Q90 40 120 40 M30 70 Q60 70 80 90 Q100 110 70 130" stroke="#c8c8d8" stroke-width="2"/>
<path d="M100 30 Q125 35 130 60" stroke="#3050d0" stroke-width="4"/>
<path d="M15 120 Q25 135 45 135" stroke="#c03020" stroke-width="4"/>
</g>
<g fill="none" stroke="#aab0c8" stroke-width="1.3">
<path d="M20 210 Q60 180 70 200 Q100 170 125 200 Q135 240 120 280 Q90 330 55 340 Q20 310 15 260 Z"/>
<path d="M20 210 L70 260 L125 200 M15 260 L70 260 L120 280 M55 340 L70 260 L70 200 M30 300 L100 230 M40 230 L110 310 M20 240 L120 240 M60 190 L90 330 M90 185 L30 320"/>
</g>
<g fill="#6070d0"><circle cx="20" cy="210" r="2.5"/><circle cx="15" cy="260" r="2.5"/><circle cx="40" cy="230" r="2.5"/><circle cx="30" cy="300" r="2.5"/></g>
<g fill="#d05040"><circle cx="125" cy="200" r="2.5"/><circle cx="120" cy="280" r="2.5"/><circle cx="110" cy="310" r="2.5"/><circle cx="135" cy="240" r="2.5"/></g>
<g fill="none" stroke-width="2">
<path d="M10 340 L50 380" stroke="#d05050"/><path d="M50 380 L85 470" stroke="#d8b8b8"/>
<path d="M85 470 L110 510 M85 470 L120 495 M85 470 L60 510 M85 470 L40 485 M85 470 L100 535 M85 470 L125 460" stroke="#a8b8e8"/>
</g>
<g fill="none" stroke-width="3">
<path d="M55 770 Q45 700 75 675 Q95 700 85 760" stroke="#e06050"/>
<path d="M45 770 Q40 800 60 820 Q80 830 90 810" stroke="#e09080"/>
<path d="M85 810 Q110 800 130 790 M85 810 Q100 840 115 870 Q120 885 110 890" stroke="#5078e0"/>
<path d="M50 780 Q30 790 25 800" stroke="#d05040"/>
</g>
</svg>

<div class="h" style="left:1561px;top:1236px">7 Size Extrapolation</div>
<div class="box lb" style="left:1561px;top:1285px;width:716px;height:65px"></div>
<div class="l" style="left:1582px;top:1306px">•</div><div class="l" style="left:1609px;top:1306px"><b>generalizes to larger graphs</b> than seen during training</div>

<svg class="a" style="left:1561px;top:1350px" width="716" height="250" viewBox="1561 1350 716 250">
<rect x="1598" y="1367" width="74.9" height="168" fill="#e6e6e6"/>
<rect x="1958" y="1367" width="75.4" height="168" fill="#e6e6e6"/>
<rect x="1598" y="1367" width="300" height="168" fill="none" stroke="#222" stroke-width="1.2"/>
<rect x="1958" y="1367" width="302" height="168" fill="none" stroke="#222" stroke-width="1.2"/>
<g font-size="11" fill="#222" text-anchor="middle">
<text x="1748" y="1361" font-size="12">Planar Extrapolation</text><text x="2109" y="1361" font-size="12">Tree Extrapolation</text>
<text x="1598" y="1549">32</text><text x="1635" y="1549">48</text><text x="1673" y="1549">64</text><text x="1710" y="1549">80</text><text x="1748" y="1549">96</text><text x="1785" y="1549">112</text><text x="1823" y="1549">128</text><text x="1860" y="1549">144</text>
<text x="1958" y="1549">32</text><text x="1996" y="1549">48</text><text x="2033" y="1549">64</text><text x="2071" y="1549">80</text><text x="2109" y="1549">96</text><text x="2147" y="1549">112</text><text x="2184" y="1549">128</text><text x="2222" y="1549">144</text>
<text x="1748" y="1562">Graph Size</text><text x="2109" y="1562">Graph Size</text>
</g>
<g font-size="11" fill="#222" text-anchor="end">
<text x="1593" y="1374">1.0</text><text x="1593" y="1406">0.8</text><text x="1593" y="1438">0.6</text><text x="1593" y="1470">0.4</text><text x="1593" y="1503">0.2</text><text x="1593" y="1535">0.0</text>
<text x="1953" y="1374">1.0</text><text x="1953" y="1406">0.8</text><text x="1953" y="1438">0.6</text><text x="1953" y="1470">0.4</text><text x="1953" y="1503">0.2</text><text x="1953" y="1535">0.0</text>
</g>
<text transform="translate(1572 1450) rotate(-90)" font-size="11" fill="#222" text-anchor="middle">Fraction Valid &amp; Unique</text>
<text transform="translate(1932 1450) rotate(-90)" font-size="11" fill="#222" text-anchor="middle">Fraction Valid &amp; Unique</text>
<g fill="none" stroke-width="1.6" stroke-dasharray="5 3">
<polyline stroke="#1f77b4" points="1635,1438 1673,1529 1710,1531 1748,1531 1785,1531 1823,1531 1860,1531"/>
<polyline stroke="#ff7f0e" points="1635,1386 1673,1471 1710,1519 1748,1531 1785,1531 1823,1531 1860,1531"/>
<polyline stroke="#9467bd" points="1635,1523 1673,1527 1710,1531 1748,1531 1785,1531 1823,1531 1860,1531"/>
<polyline stroke="#2ca02c" points="1635,1386 1673,1410 1710,1463 1748,1491 1785,1519 1823,1519 1860,1531"/>
<polyline stroke="#1f77b4" points="1996,1531 2033,1531 2071,1531 2109,1531 2147,1531 2184,1531 2222,1531"/>
<polyline stroke="#ff7f0e" points="1996,1378 2033,1374 2071,1410 2109,1455 2147,1463 2184,1515 2222,1523"/>
<polyline stroke="#9467bd" points="1996,1394 2033,1370 2071,1382 2109,1527 2147,1471 2184,1527 2222,1475"/>
<polyline stroke="#2ca02c" points="1996,1370 2033,1386 2071,1390 2109,1430 2147,1459 2184,1491 2222,1519"/>
</g>
<g fill="none" stroke-width="1.8" stroke="#d62728">
<polyline points="1635,1374 1673,1378 1710,1386 1748,1378 1785,1382 1823,1398 1860,1394"/>
<polyline points="1996,1370 2033,1370 2071,1370 2109,1370 2147,1370 2184,1370 2222,1370"/>
</g>
<g fill="#1f77b4"><circle cx="1635" cy="1438" r="4"/><circle cx="1673" cy="1529" r="4"/><circle cx="1710" cy="1531" r="4"/><circle cx="1748" cy="1531" r="4"/><circle cx="1785" cy="1531" r="4"/><circle cx="1823" cy="1531" r="4"/><circle cx="1860" cy="1531" r="4"/>
<circle cx="1996" cy="1531" r="4"/><circle cx="2033" cy="1531" r="4"/><circle cx="2071" cy="1531" r="4"/><circle cx="2109" cy="1531" r="4"/><circle cx="2147" cy="1531" r="4"/><circle cx="2184" cy="1531" r="4"/><circle cx="2222" cy="1531" r="4"/></g>
<g fill="#ff7f0e"><circle cx="1635" cy="1386" r="4"/><circle cx="1673" cy="1471" r="4"/><circle cx="1710" cy="1519" r="4"/>
<circle cx="1996" cy="1378" r="4"/><circle cx="2033" cy="1374" r="4"/><circle cx="2071" cy="1410" r="4"/><circle cx="2109" cy="1455" r="4"/><circle cx="2147" cy="1463" r="4"/><circle cx="2184" cy="1515" r="4"/><circle cx="2222" cy="1523" r="4"/></g>
<g fill="#9467bd"><circle cx="1635" cy="1523" r="4"/><circle cx="1673" cy="1527" r="4"/><circle cx="1710" cy="1531" r="4"/><circle cx="1748" cy="1531" r="4"/><circle cx="1785" cy="1531" r="4"/><circle cx="1823" cy="1531" r="4"/>
<circle cx="1996" cy="1394" r="4"/><circle cx="2071" cy="1382" r="4"/><circle cx="2109" cy="1527" r="4"/><circle cx="2147" cy="1471" r="4"/><circle cx="2184" cy="1527" r="4"/><circle cx="2222" cy="1475" r="4"/></g>
<g fill="#2ca02c"><circle cx="1635" cy="1386" r="4"/><circle cx="1673" cy="1410" r="4"/><circle cx="1710" cy="1463" r="4"/><circle cx="1748" cy="1491" r="4"/><circle cx="1785" cy="1519" r="4"/><circle cx="1823" cy="1519" r="4"/><circle cx="1860" cy="1531" r="4"/>
<circle cx="2033" cy="1386" r="4"/><circle cx="2071" cy="1390" r="4"/><circle cx="2109" cy="1430" r="4"/><circle cx="2147" cy="1459" r="4"/><circle cx="2184" cy="1491" r="4"/><circle cx="2222" cy="1519" r="4"/></g>
<g fill="#d62728"><circle cx="1635" cy="1374" r="4"/><circle cx="1673" cy="1378" r="4"/><circle cx="1710" cy="1386" r="4"/><circle cx="1748" cy="1378" r="4"/><circle cx="1785" cy="1382" r="4"/><circle cx="1823" cy="1398" r="4"/><circle cx="1860" cy="1394" r="4"/>
<circle cx="1996" cy="1370" r="4"/><circle cx="2033" cy="1370" r="4"/><circle cx="2071" cy="1370" r="4"/><circle cx="2109" cy="1370" r="4"/><circle cx="2147" cy="1370" r="4"/><circle cx="2184" cy="1370" r="4"/><circle cx="2222" cy="1370" r="4"/></g>
<rect x="1718" y="1566" width="416" height="19" fill="#fff" stroke="#ccc" rx="3"/>
<g stroke-width="1.6">
<path d="M1724 1575h20" stroke="#1f77b4" stroke-dasharray="5 3"/><circle cx="1734" cy="1575" r="3.5" fill="#1f77b4"/>
<path d="M1800 1575h20" stroke="#ff7f0e" stroke-dasharray="5 3"/><circle cx="1810" cy="1575" r="3.5" fill="#ff7f0e"/>
<path d="M1883 1575h20" stroke="#9467bd" stroke-dasharray="5 3"/><circle cx="1893" cy="1575" r="3.5" fill="#9467bd"/>
<path d="M1955 1575h20" stroke="#2ca02c" stroke-dasharray="5 3"/><circle cx="1965" cy="1575" r="3.5" fill="#2ca02c"/>
<path d="M2077 1575h20" stroke="#d62728"/><circle cx="2087" cy="1575" r="3.5" fill="#d62728"/>
</g>
<g font-size="11" fill="#222"><text x="1750" y="1579">GRAN</text><text x="1826" y="1579">DiGress</text><text x="1909" y="1579">BiGG</text><text x="1981" y="1579">Ours (one-shot)</text><text x="2103" y="1579">Ours</text></g>
</svg>

</body></html>
